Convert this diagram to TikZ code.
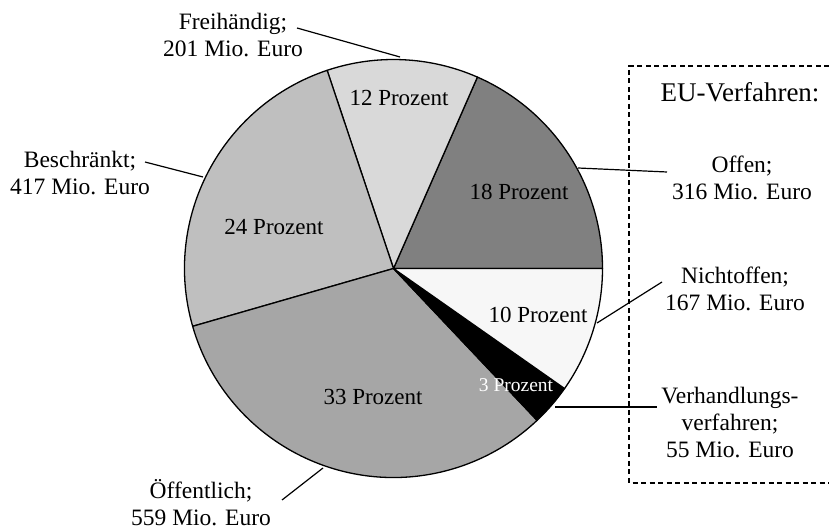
\documentclass[tikz,border=0pt]{standalone}
\usepackage{fontspec}
\setmainfont{Liberation Serif}
\begin{document}
\begin{tikzpicture}[x=1pt,y=1pt,
  slice/.style={draw=black,line width=1.3pt,line join=round},
  lbl/.style={align=center,inner sep=0pt,font=\fontsize{23.5}{27}\selectfont},
  pct/.style={inner sep=0pt,font=\fontsize{23}{25}\selectfont},
  leader/.style={draw=black,line width=1.2pt}]
\useasboundingbox (0,0) rectangle (829,532);
\def\R{209}
\coordinate (C) at (393.5,263.5);
% slices
\fill[slice,fill=black!50] (C) -- ++(0:\R) arc[start angle=0,end angle=66.33,radius=\R] -- cycle;
\fill[slice,fill=black!15] (C) -- ++(66.33:\R) arc[start angle=66.33,end angle=108.52,radius=\R] -- cycle;
\fill[slice,fill=black!25] (C) -- ++(108.52:\R) arc[start angle=108.52,end angle=196.06,radius=\R] -- cycle;
\fill[slice,fill=black!35] (C) -- ++(196.06:\R) arc[start angle=196.06,end angle=313.40,radius=\R] -- cycle;
\fill[slice,fill=black] (C) -- ++(313.40:\R) arc[start angle=313.40,end angle=324.94,radius=\R] -- cycle;
\fill[slice,fill=black!3] (C) -- ++(324.94:\R) arc[start angle=324.94,end angle=360,radius=\R] -- cycle;
% percent labels
\node[pct] (p12) at (399,434) {12 Prozent};
\node[pct] (p18) at (519,340) {18 Prozent};
\node[pct] (p24) at (274,305) {24 Prozent};
\node[pct] (p10) at (538,217) {10 Prozent};
\node[pct] (p33) at (373,135) {33 Prozent};
\node[inner sep=0pt,text=white,font=\fontsize{19.5}{22}\selectfont] (p3) at (516,147) {3 Prozent};
% dashed box
\draw[line width=1.2pt,dash pattern=on 5pt off 3.5pt] (829,466) -- (629,466) -- (629,49) -- (829,49);
\node[inner sep=0pt,font=\fontsize{27}{30}\selectfont] (eu) at (740,440) {EU-Verfahren:};
% outer labels
\node[lbl] (frei) at (233,497) {Freihändig;\\201 Mio. Euro};
\node[lbl] (besch) at (80,359) {Beschränkt;\\417 Mio. Euro};
\node[lbl] (oeff) at (201,29) {Öffentlich;\\559 Mio. Euro};
\node[lbl] (offen) at (742,354) {Offen;\\316 Mio. Euro};
\node[lbl] (nicht) at (735,243) {Nichtoffen;\\167 Mio. Euro};
\node[lbl] (verh) at (730,109) {Verhandlungs-\\verfahren;\\55 Mio. Euro};
% leader lines
\coordinate (f1) at (297,504); \coordinate (f2) at (400,475);
\coordinate (b1) at (145,370); \coordinate (b2) at (203,355);
\coordinate (o1) at (282,32);  \coordinate (o2) at (323,64);
\coordinate (e1) at (578,364); \coordinate (e2) at (667,360);
\coordinate (n1) at (597,209); \coordinate (n2) at (662,250);
\coordinate (v1) at (555,125); \coordinate (v2) at (657,125);
\draw[leader] (f1) -- (f2);
\draw[leader] (b1) -- (b2);
\draw[leader] (o1) -- (o2);
\draw[leader] (e1) -- (e2);
\draw[leader] (n1) -- (n2);
\draw[leader] (v1) -- (v2);
\end{tikzpicture}
\end{document}
